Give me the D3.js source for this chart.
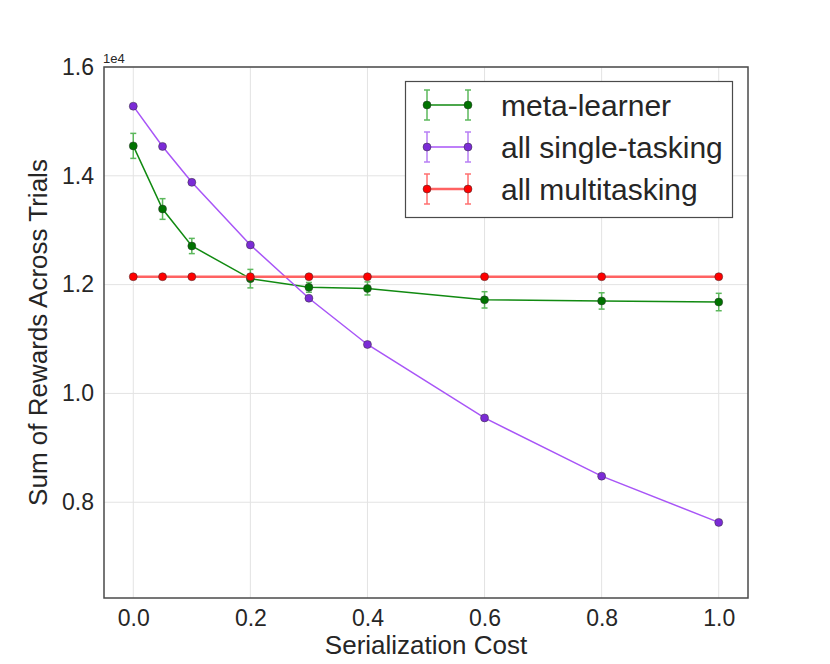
<!DOCTYPE html>
<html>
<head>
<meta charset="utf-8">
<script src="https://cdn.jsdelivr.net/npm/d3@7"></script>
<style>
  body { margin: 0; background: #fff; }
  text { font-family: "Liberation Sans", Arial, sans-serif; fill: #262626; }
</style>
</head>
<body>
<div id="chart"></div>
<script>
// serialization cost values on the x axis
const costs = [0, 0.05, 0.1, 0.2, 0.3, 0.4, 0.6, 0.8, 1.0];

// sums of rewards, in units of 1e4
const metaLearner = [1.455, 1.339, 1.271, 1.211, 1.195, 1.193, 1.172, 1.170, 1.168];
const metaLearnerErr = [0.023, 0.019, 0.014, 0.017, 0.009, 0.012, 0.015, 0.015, 0.016];
const singleTasking = [1.528, 1.454, 1.388, 1.273, 1.175, 1.090, 0.955, 0.848, 0.763];
const singleTaskingErr = [0, 0, 0, 0, 0, 0, 0, 0, 0];
const multitasking = [1.2145, 1.2145, 1.2145, 1.2145, 1.2145, 1.2145, 1.2145, 1.2145, 1.2145];
const multitaskingErr = [0, 0, 0, 0, 0, 0, 0, 0, 0];

const xTicks = [0, 0.2, 0.4, 0.6, 0.8, 1.0];
const yTicks = [0.8, 1.0, 1.2, 1.4, 1.6];

const series = [
  { name: "meta-learner", values: metaLearner, err: metaLearnerErr,
    line: "#118a11", marker: "#007300", errColor: "#5cb85c", lw: 1.5 },
  { name: "all single-tasking", values: singleTasking, err: singleTaskingErr,
    line: "#a855f7", marker: "#7b2bd6", errColor: "#b77ff5", lw: 1.5 },
  { name: "all multitasking", values: multitasking, err: multitaskingErr,
    line: "#ff6262", marker: "#ff0000", errColor: "#ff7070", lw: 2.5 }
];

const W = 830, H = 664;
const plotLeft = 104, plotRight = 748, plotTop = 67, plotBottom = 598;

const svg = d3.select("#chart").append("svg")
  .attr("width", W)
  .attr("height", H);

const x = d3.scaleLinear().domain([-0.05, 1.05]).range([plotLeft, plotRight]);
const y = d3.scaleLinear().domain([0.624, 1.6]).range([plotBottom, plotTop]);

// grid
svg.append("g")
  .selectAll("line")
  .data(xTicks)
  .join("line")
  .attr("x1", d => x(d)).attr("x2", d => x(d))
  .attr("y1", plotTop).attr("y2", plotBottom)
  .attr("stroke", "#e3e3e3").attr("stroke-width", 1);

svg.append("g")
  .selectAll("line")
  .data(yTicks)
  .join("line")
  .attr("x1", plotLeft).attr("x2", plotRight)
  .attr("y1", d => y(d)).attr("y2", d => y(d))
  .attr("stroke", "#e3e3e3").attr("stroke-width", 1);

// axes (no tick marks, labels only)
const xAxis = svg.append("g")
  .attr("transform", `translate(0,${plotBottom})`)
  .call(d3.axisBottom(x).tickValues(xTicks).tickFormat(d3.format(".1f")).tickSize(0).tickPadding(12));
xAxis.select(".domain").remove();
xAxis.selectAll("text").style("font-size", "23px").attr("fill", "#262626");

const yAxis = svg.append("g")
  .attr("transform", `translate(${plotLeft},0)`)
  .call(d3.axisLeft(y).tickValues(yTicks).tickFormat(d3.format(".1f")).tickSize(0).tickPadding(10));
yAxis.select(".domain").remove();
yAxis.selectAll("text").style("font-size", "23px").attr("fill", "#262626");

// =========================
// SERIES
// =========================
const line = d3.line()
  .x((d, i) => x(costs[i]))
  .y(d => y(d));

series.forEach(s => {
  const g = svg.append("g");

  // error bars
  s.values.forEach((v, i) => {
    const cx = x(costs[i]);
    const y0 = y(v - s.err[i]), y1 = y(v + s.err[i]);
    g.append("line")
      .attr("x1", cx).attr("x2", cx).attr("y1", y0).attr("y2", y1)
      .attr("stroke", s.errColor).attr("stroke-width", 1.5);
    [y0, y1].forEach(yy => {
      g.append("line")
        .attr("x1", cx - 3).attr("x2", cx + 3).attr("y1", yy).attr("y2", yy)
        .attr("stroke", s.errColor).attr("stroke-width", 1.5);
    });
  });

  g.append("path")
    .datum(s.values)
    .attr("fill", "none")
    .attr("stroke", s.line)
    .attr("stroke-width", s.lw)
    .attr("d", line);

  g.selectAll("circle")
    .data(s.values)
    .join("circle")
    .attr("cx", (d, i) => x(costs[i]))
    .attr("cy", d => y(d))
    .attr("r", 4)
    .attr("fill", s.marker)
    .attr("stroke", "#333")
    .attr("stroke-width", 0.5);
});

// frame
svg.append("rect")
  .attr("x", plotLeft).attr("y", plotTop)
  .attr("width", plotRight - plotLeft).attr("height", plotBottom - plotTop)
  .attr("fill", "none")
  .attr("stroke", "#4a4a4a")
  .attr("stroke-width", 1.5);

// offset label
svg.append("text")
  .attr("x", 103).attr("y", 63)
  .style("font-size", "13px")
  .text("1e4");

// axis labels
svg.append("text")
  .attr("x", (plotLeft + plotRight) / 2).attr("y", 654)
  .attr("text-anchor", "middle")
  .style("font-size", "26px")
  .text("Serialization Cost");

svg.append("text")
  .attr("transform", `translate(47,${(plotTop + plotBottom) / 2}) rotate(-90)`)
  .attr("text-anchor", "middle")
  .style("font-size", "26px")
  .text("Sum of Rewards Across Trials");

// =========================
// LEGEND
// =========================
const legend = svg.append("g");
legend.append("rect")
  .attr("x", 405.5).attr("y", 81.5)
  .attr("width", 327).attr("height", 136)
  .attr("fill", "#fff")
  .attr("stroke", "#4a4a4a")
  .attr("stroke-width", 1.2);

series.forEach((s, i) => {
  const yy = 105 + i * 42;
  const item = legend.append("g");
  [427, 468].forEach(lx => {
    item.append("line")
      .attr("x1", lx).attr("x2", lx).attr("y1", yy - 15).attr("y2", yy + 15)
      .attr("stroke", s.errColor).attr("stroke-width", 1.5);
    [yy - 15, yy + 15].forEach(cy => {
      item.append("line")
        .attr("x1", lx - 3).attr("x2", lx + 3).attr("y1", cy).attr("y2", cy)
        .attr("stroke", s.errColor).attr("stroke-width", 1.5);
    });
  });
  item.append("line")
    .attr("x1", 427).attr("x2", 468).attr("y1", yy).attr("y2", yy)
    .attr("stroke", s.line).attr("stroke-width", s.lw);
  [427, 468].forEach(lx => {
    item.append("circle")
      .attr("cx", lx).attr("cy", yy).attr("r", 4)
      .attr("fill", s.marker).attr("stroke", "#333").attr("stroke-width", 0.5);
  });
  item.append("text")
    .attr("x", 501).attr("y", yy)
    .attr("dy", "0.35em")
    .style("font-size", "30px")
    .text(s.name);
});
</script>
</body>
</html>
